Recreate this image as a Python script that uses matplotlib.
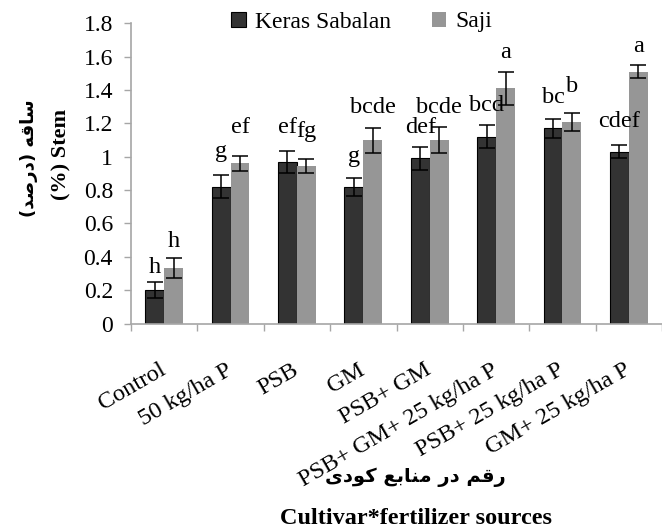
import numpy as np
import matplotlib
matplotlib.use("Agg")
import matplotlib.pyplot as plt
from matplotlib.transforms import ScaledTranslation

# ---------------- data ----------------
categories = ["Control", "50 kg/ha P", "PSB", "GM", "PSB+ GM",
              "PSB+ GM+ 25 kg/ha P", "PSB+ 25 kg/ha P", "GM+ 25 kg/ha P"]
series_names = ["Keras Sabalan", "Saji"]
keras = [0.20, 0.82, 0.97, 0.82, 0.99, 1.12, 1.17, 1.03]
keras_err = [0.05, 0.07, 0.065, 0.055, 0.07, 0.07, 0.055, 0.04]
saji = [0.33, 0.96, 0.945, 1.10, 1.10, 1.41, 1.21, 1.51]
saji_err = [0.06, 0.045, 0.04, 0.075, 0.08, 0.10, 0.055, 0.04]
keras_letters = ["h", "g", "ef", "g", "def", "bcd", "bc", "cdef"]
saji_letters = ["h", "ef", "fg", "bcde", "bcde", "a", "b", "a"]
keras_letter_y = [0.30, 1.00, 1.145, 0.97, 1.145, 1.276, 1.325, 1.18]
saji_letter_y = [0.46, 1.14, 1.12, 1.265, 1.265, 1.59, 1.39, 1.63]
yticks = [0, 0.2, 0.4, 0.6, 0.8, 1, 1.2, 1.4, 1.6, 1.8]
ytick_labels = ["0", "0.2", "0.4", "0.6", "0.8", "1", "1.2", "1.4", "1.6", "1.8"]
ylabel_fa = "ساقه (درصد)"
ylabel_en = "(%) Stem"
xlabel_fa = "رقم در منابع کودی"
xlabel_en = "Cultivar*fertilizer sources"

# ------------- minimal Persian shaping (matplotlib has no RTL shaping) -------------
FORMS = {  # isolated, final, initial, medial
    'ا': ('\uFE8D', '\uFE8E', None, None),
    'ب': ('\uFE8F', '\uFE90', '\uFE91', '\uFE92'),
    'د': ('\uFEA9', '\uFEAA', None, None),
    'ر': ('\uFEAD', '\uFEAE', None, None),
    'س': ('\uFEB1', '\uFEB2', '\uFEB3', '\uFEB4'),
    'ص': ('\uFEB9', '\uFEBA', '\uFEBB', '\uFEBC'),
    'ع': ('\uFEC9', '\uFECA', '\uFECB', '\uFECC'),
    'ق': ('\uFED5', '\uFED6', '\uFED7', '\uFED8'),
    'ک': ('\uFB8E', '\uFB8F', '\uFB90', '\uFB91'),
    'م': ('\uFEE1', '\uFEE2', '\uFEE3', '\uFEE4'),
    'ن': ('\uFEE5', '\uFEE6', '\uFEE7', '\uFEE8'),
    'ه': ('\uFEE9', '\uFEEA', '\uFEEB', '\uFEEC'),
    'و': ('\uFEED', '\uFEEE', None, None),
    'ی': ('\uFBFC', '\uFBFD', '\uFBFE', '\uFBFF'),
}
MIRROR = {'(': ')', ')': '('}


def shape_fa(s):
    out = []
    for i, c in enumerate(s):
        if c not in FORMS:
            out.append(MIRROR.get(c, c))
            continue
        prev = s[i - 1] if i > 0 else None
        nxt = s[i + 1] if i + 1 < len(s) else None
        jp = prev in FORMS and FORMS[prev][2] is not None
        jn = FORMS[c][2] is not None and nxt in FORMS
        iso, fin, ini, med = FORMS[c]
        if jp and jn:
            out.append(med)
        elif jp:
            out.append(fin)
        elif jn:
            out.append(ini)
        else:
            out.append(iso)
    return "".join(reversed(out))


# ---------------- figure ----------------
plt.rcParams["font.family"] = ["Liberation Serif", "DejaVu Sans"]
W, H = 662, 528
fig = plt.figure(figsize=(W / 100, H / 100), dpi=100)
grey = "#A6A6A6"

ax = fig.add_axes([131 / W, 1 - 323.5 / H, 531 / W, 300.2 / H])
x = np.arange(len(categories))
bw = 0.285
ekw = dict(ecolor="black", elinewidth=1.1, capsize=5.5, capthick=1.1)
b1 = ax.bar(x - bw / 2, keras, bw, color="#333333", edgecolor="black",
            linewidth=0.8, yerr=keras_err, error_kw=ekw, label=series_names[0], zorder=2)
b2 = ax.bar(x + bw / 2, saji, bw, color="#969696", edgecolor="none",
            yerr=saji_err, error_kw=ekw, label=series_names[1], zorder=2)

for xi, t, yy in zip(x - bw / 2, keras_letters, keras_letter_y):
    ax.text(xi, yy, t, ha="center", va="baseline", fontsize=17.5)
for xi, t, yy in zip(x + bw / 2, saji_letters, saji_letter_y):
    ax.text(xi, yy, t, ha="center", va="baseline", fontsize=17.5)

ax.set_xlim(-0.5, len(categories) - 0.5)
ax.set_ylim(0, 1.8)
ax.set_yticks(yticks)
ax.set_yticklabels(ytick_labels, fontsize=17)
ax.set_xticks(x)
ax.set_xticklabels(categories, fontsize=17.5, rotation=30,
                   ha="right", va="top", rotation_mode="anchor")
ax.set_xticks(np.arange(-0.5, len(categories), 1), minor=True)
ax.tick_params(axis="x", which="major", length=0, pad=26)
ax.tick_params(axis="x", which="minor", length=5, width=1, color=grey, direction="out")
ax.tick_params(axis="y", length=5, width=1, color=grey, direction="out", pad=8)
off = ScaledTranslation(-5 / 100, 0, fig.dpi_scale_trans)
for lbl in ax.get_xticklabels():
    lbl.set_transform(lbl.get_transform() + off)

for sp in ["top", "right"]:
    ax.spines[sp].set_visible(False)
for sp in ["left", "bottom"]:
    ax.spines[sp].set_color(grey)
    ax.spines[sp].set_linewidth(1.2)

fig.legend(handles=[b1, b2], labels=series_names, loc="center",
           bbox_to_anchor=(362 / W, 1 - 22 / H), ncol=2, frameon=False,
           prop={"family": "Liberation Serif", "size": 17}, handlelength=0.62,
           handleheight=0.62, handletextpad=0.4, columnspacing=1.7,
           borderpad=0, borderaxespad=0)

fa_family = ["DejaVu Sans"]
fig.text(29 / W, 1 - 158 / H, shape_fa(ylabel_fa), rotation=90, ha="center", va="center",
         fontsize=13, fontweight="bold", family=fa_family)
fig.text(61 / W, 1 - 154 / H, ylabel_en, rotation=90, ha="center", va="center",
         fontsize=16, fontweight="bold")
fig.text(415 / W, 1 - 477 / H, shape_fa(xlabel_fa), ha="center", va="center",
         fontsize=14, fontweight="bold", family=fa_family)
fig.text(416 / W, 1 - 524 / H, xlabel_en, ha="center", va="baseline",
         fontsize=17.5, fontweight="bold")

fig.savefig("out.png", dpi=100)
